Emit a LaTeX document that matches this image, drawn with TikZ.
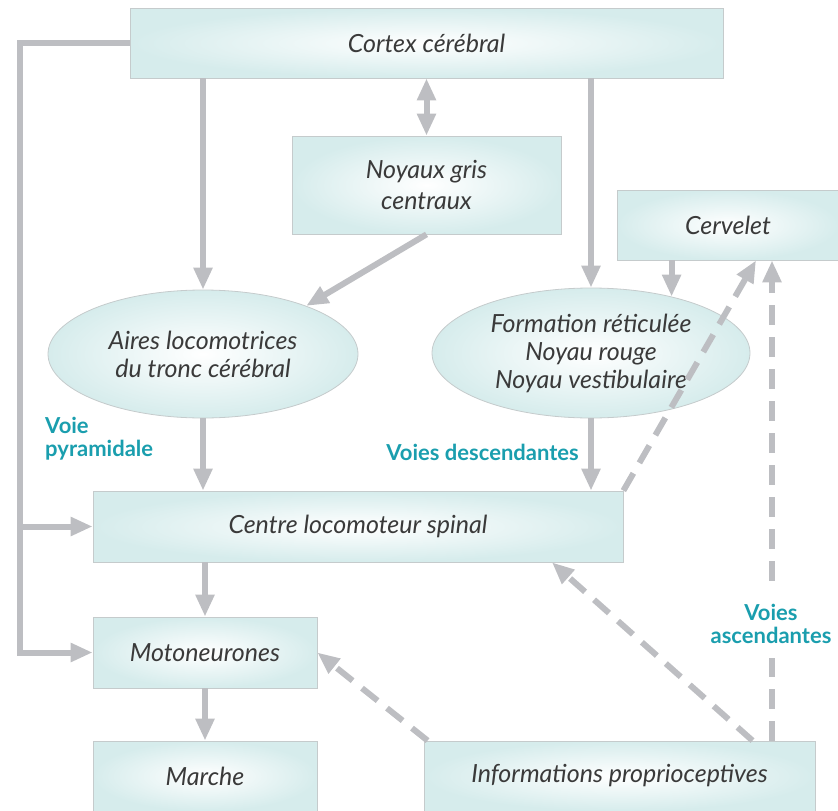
\documentclass[tikz,border=0pt]{standalone}
\usepackage{fontspec}
\setmainfont{Lato}
\usetikzlibrary{arrows.meta,shapes.geometric}
\definecolor{arr}{HTML}{BDBEC2}
\definecolor{boxedge}{HTML}{C5CBCC}
\definecolor{boxfill}{HTML}{D6ECEC}
\definecolor{labteal}{HTML}{1A9EAE}
\definecolor{txt}{HTML}{3A3A3A}
\tikzset{
  x=1pt, y=-1pt,
  boxstyle/.style={draw=boxedge, line width=0.8pt, inner color=white, outer color=boxfill,
    font=\fontsize{25}{28}\selectfont\itshape, text=txt, align=center, inner sep=0pt},
  rbox/.style={boxstyle, rectangle},
  ebox/.style={boxstyle, ellipse},
  arrowline/.style={draw=arr, line width=6pt, -{Triangle[width=18pt,length=22pt]}},
  plainline/.style={draw=arr, line width=6pt},
  dashline/.style={arrowline, dash pattern=on 20pt off 12pt},
  tlabel/.style={text=labteal, font=\fontsize{22}{22.5}\selectfont\bfseries, inner sep=0pt}
}
\begin{document}
\begin{tikzpicture}
\useasboundingbox (0,0) rectangle (838,811);
% nodes
\node[rbox, minimum width=593pt, minimum height=70pt] (cortex) at (426.5,43) {Cortex cérébral};
\node[rbox, minimum width=269pt, minimum height=98pt] (noyaux) at (426.5,185) {Noyaux gris\\[3pt]centraux};
\node[rbox, minimum width=222pt, minimum height=70pt] (cervelet) at (728,225) {Cervelet};
\node[ebox, minimum width=310pt, minimum height=128pt] (aires) at (203,354) {Aires locomotrices\\du tronc cérébral};
\node[ebox, minimum width=318pt, minimum height=130pt] (formation) at (591,353) {Formation réticulée\\Noyau rouge\\Noyau vestibulaire};
\node[rbox, minimum width=530pt, minimum height=71pt] (centre) at (358,526.5) {Centre locomoteur spinal};
\node[rbox, minimum width=224pt, minimum height=71pt] (moto) at (205,652.5) {Motoneurones};
\node[rbox, minimum width=224pt, minimum height=70pt] (marche) at (205,776) {Marche};
\node[rbox, minimum width=391pt, minimum height=70pt] (info) at (619.5,776) {Informations proprioceptives};
% coordinates
\coordinate (lc) at (20,43);
\coordinate (jc) at (20,526.5);
% connectors
\draw[plainline] (cortex.west) -- (lc) -- (jc);
\draw[arrowline] (jc) |- (moto.west);
\draw[arrowline] (jc) -- (centre.west);
\draw[arrowline] (aires.north |- cortex.south) -- (aires.north);
\draw[draw=arr, line width=6pt, {Triangle[width=18pt,length=22pt]}-{Triangle[width=18pt,length=22pt]}] (cortex.south -| noyaux.north) -- (noyaux.north);
\draw[arrowline] (formation.north |- cortex.south) -- (formation.north);
\draw[arrowline] (noyaux.south) -- (aires.25);
\draw[arrowline] (cervelet.south -| formation.35) -- (formation.35);
\draw[dashline] (centre.north east) -- ([xshift=28pt]cervelet.south);
\draw[dashline] ([xshift=152.5pt]info.north) -- ([xshift=152.5pt]info.north |- cervelet.south);
\draw[arrowline] (aires.south) -- (aires.south |- centre.north);
\draw[arrowline] (formation.south) -- (formation.south |- centre.north);
\draw[arrowline] (moto.north |- centre.south) -- (moto.north);
\draw[arrowline] (moto.south) -- (marche.north);
\draw[dashline] ([xshift=133pt]info.north) -- ([xshift=194pt]centre.south);
\draw[dashline] ([xshift=4pt]info.north west) -- (moto.east);
% labels
\node[tlabel, anchor=north west, align=left] (lpyr) at (45,417) {Voie\\pyramidale};
\node[tlabel, anchor=east] (ldesc) at (579,452) {Voies descendantes};
\node[tlabel, align=center, fill=white, inner ysep=14pt, inner xsep=2pt] (lasc) at (771,624) {Voies\\ascendantes};
\end{tikzpicture}
\end{document}
